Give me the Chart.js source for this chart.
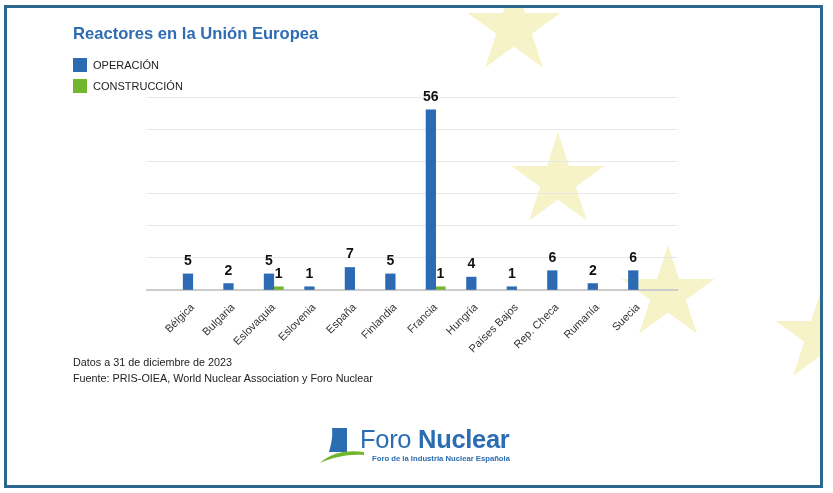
<!DOCTYPE html>
<html>
<head>
<meta charset="utf-8">
<script src="https://cdn.jsdelivr.net/npm/chart.js@4.4.1/dist/chart.umd.min.js"></script>
<style>
    html, body { margin: 0; padding: 0; background: #fff; }
    body { width: 833px; height: 493px; position: relative; overflow: hidden; font-family: "Liberation Sans", Arial, sans-serif; }
    #marco { position: absolute; left: 4px; top: 5px; width: 819px; height: 483px; border: 3px solid #2a6890; box-sizing: border-box; }
    #estrellas { position: absolute; left: 0; top: 0; }
    #contenedor { position: absolute; left: 0; top: 0; width: 833px; height: 493px; }
    #titulo { position: absolute; left: 73px; top: 24px; font-size: 16.6px; font-weight: bold; color: #2f6db3; white-space: nowrap; }
    .leyenda { position: absolute; left: 73px; font-size: 11px; color: #222; white-space: nowrap; line-height: 14px; }
    .leyenda span { display: inline-block; width: 14px; height: 14px; vertical-align: top; margin-right: 6px; }
    #notas { position: absolute; left: 73px; top: 354px; font-size: 10.8px; color: #222; line-height: 16px; white-space: nowrap; }
    #logo { position: absolute; left: 318px; top: 426px; width: 200px; height: 42px; }
    #logoTexto { position: absolute; left: 42px; top: 0px; font-size: 25.5px; color: #2b6cb2; white-space: nowrap; line-height: 26px; letter-spacing: -0.3px; }
    #logoTexto b { font-weight: bold; }
    #logoSub { position: absolute; left: 54px; top: 28px; font-size: 7.7px; font-weight: bold; color: #2b6cb2; white-space: nowrap; }
</style>
</head>
<body>
<div id="marco"></div>
<svg id="estrellas" width="833" height="493"></svg>
<div id="contenedor"><canvas id="chartReactores"></canvas></div>

<div id="titulo">Reactores en la Unión Europea</div>
<div class="leyenda" style="top:58px"><span style="background:#2c6bb3"></span>OPERACIÓN</div>
<div class="leyenda" style="top:79px"><span style="background:#72b52f"></span>CONSTRUCCIÓN</div>

<div id="notas">Datos a 31 de diciembre de 2023<br>Fuente: PRIS-OIEA, World Nuclear Association y Foro Nuclear</div>

<div id="logo">
    <svg width="50" height="42" style="position:absolute;left:0;top:0">
        <path d="M14 2 L29 2 L29 26 L11 26 C13 19 15 11 14 2 Z" fill="#2b6cb2"/>
        <path d="M2 37 C14 26 30 24 46 26 L46 29 C30 28 16 31 2 37 Z" fill="#72b52f"/>
    </svg>
    <div id="logoTexto">Foro <b>Nuclear</b></div>
    <div id="logoSub">Foro de la Industria Nuclear Española</div>
</div>

<script>
// Données du graphique
const paises = ["Bélgica", "Bulgaria", "Eslovaquia", "Eslovenia", "España", "Finlandia",
    "Francia", "Hungría", "Países Bajos", "Rep. Checa", "Rumanía", "Suecia"];
const operacion = [5, 2, 5, 1, 7, 5, 56, 4, 1, 6, 2, 6];
const construccion = [null, null, 1, null, null, null, 1, null, null, null, null, null];
const ejeYMin = 0;
const ejeYMax = 60;
const ejeYPaso = 10;

// Estrellas de fondo (decoración)
const estrellas = [[514, 28], [558, 181], [668, 294], [822, 336]];
const svg = document.getElementById('estrellas');
let svgHtml = '<defs><clipPath id="clipMarco"><rect x="7" y="8" width="813" height="477"/></clipPath></defs><g clip-path="url(#clipMarco)">';
estrellas.forEach(([cx, cy]) => {
    const R = 49, r = R * 0.382;
    let pts = [];
    for (let k = 0; k < 10; k++) {
        const ang = -Math.PI / 2 + k * Math.PI / 5;
        const rad = k % 2 === 0 ? R : r;
        pts.push((cx + rad * Math.cos(ang)).toFixed(1) + ',' + (cy + rad * Math.sin(ang)).toFixed(1));
    }
    svgHtml += '<polygon points="' + pts.join(' ') + '" fill="#f7f3c9"/>';
});
svgHtml += '</g>';
svg.innerHTML = svgHtml;

// Etiquetas de valores encima de las barras
const etiquetasValores = {
    id: 'etiquetasValores',
    afterDatasetsDraw(chart) {
        const ctx = chart.ctx;
        ctx.save();
        ctx.font = 'bold 14px "Liberation Sans", Arial, sans-serif';
        ctx.fillStyle = '#111';
        ctx.textAlign = 'center';
        ctx.textBaseline = 'alphabetic';
        chart.data.datasets.forEach((ds, i) => {
            const meta = chart.getDatasetMeta(i);
            meta.data.forEach((bar, j) => {
                const v = ds.data[j].y;
                if (v === null || v === undefined) return;
                ctx.fillText(String(v), bar.x, bar.y - 9);
            });
        });
        ctx.restore();
    }
};

const canvas = document.getElementById('chartReactores');

new Chart(canvas, {
    type: 'bar',
    data: {
        datasets: [{
            label: 'OPERACIÓN',
            data: operacion.map((v, i) => ({ x: i, y: v })),
            backgroundColor: '#2c6bb3',
            barThickness: 9.6
        }, {
            label: 'CONSTRUCCIÓN',
            data: construccion.map((v, i) => ({ x: i, y: v })),
            backgroundColor: '#72b52f',
            barThickness: 9.6
        }]
    },
    options: {
        responsive: true,
        maintainAspectRatio: false,
        animation: false,
        layout: {
            padding: { left: 147, right: 156, top: 97, bottom: 133 }
        },
        plugins: {
            legend: { display: false },
            tooltip: { enabled: false }
        },
        scales: {
            x: {
                type: 'linear',
                offset: false,
                min: -1.131,
                max: 11.962,
                afterBuildTicks: (scale) => {
                    scale.ticks = paises.map((p, i) => ({ value: i }));
                },
                afterFit: (scale) => { scale.height = 70; },
                ticks: {
                    autoSkip: false,
                    maxRotation: 45,
                    minRotation: 45,
                    padding: 3,
                    color: '#333',
                    font: { family: '"Liberation Sans", Arial, sans-serif', size: 11 },
                    callback: (v) => paises[v]
                },
                grid: { display: false, offset: false },
                border: { display: true, color: '#cccccc', width: 2 }
            },
            y: {
                min: ejeYMin,
                max: ejeYMax,
                afterFit: (scale) => { scale.width = 0; },
                ticks: { display: false, stepSize: ejeYPaso },
                grid: { color: '#e8e8e8', lineWidth: 1, drawTicks: false },
                border: { display: false }
            }
        }
    },
    plugins: [etiquetasValores]
});
</script>
</body>
</html>
